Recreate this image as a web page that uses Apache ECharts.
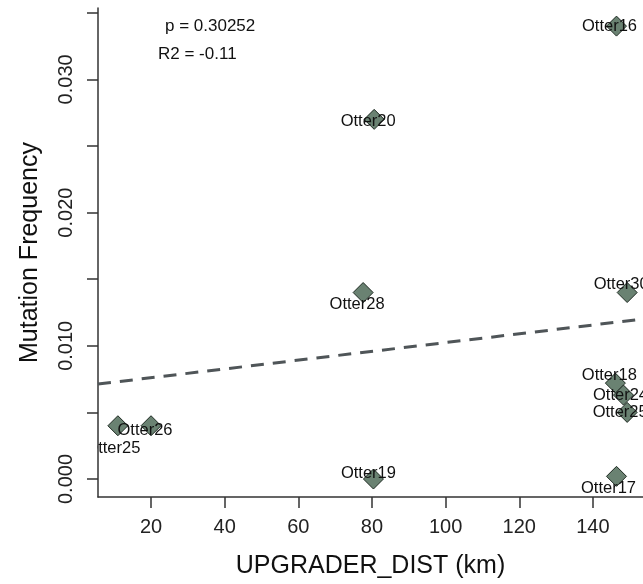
<!doctype html>
<html>
<head>
<meta charset="utf-8">
<title></title>
<script src="https://cdn.jsdelivr.net/npm/echarts@6/dist/echarts.min.js"></script>
<style>
html, body { margin: 0; padding: 0; background: #fff; }
#main { width: 643px; height: 584px; }
</style>
</head>
<body>
<div id="main"></div>
<script type="text/javascript">
// sample names, distance (km), mutation frequency
var names = ['Otter16', 'Otter20', 'Otter28', 'Otter30', 'Otter18', 'Otter24', 'Otter25', 'Otter17', 'Otter19', 'Otter25', 'Otter26'];
var distKm = [146.4, 80.6, 77.6, 149.3, 146.1, 148.3, 149.3, 146.4, 80.4, 11.0, 20.0];
var mutFreq = [0.0340, 0.0270, 0.0140, 0.0140, 0.0072, 0.0063, 0.0050, 0.0002, 0.0000, 0.0040, 0.0040];

// fitted line end points
var fitX = [5.6, 153.6];
var fitY = [0.00713, 0.01201];

var xTicks = [20, 40, 60, 80, 100, 120, 140];
var yTicks = [0, 0.005, 0.010, 0.015, 0.020, 0.025, 0.030, 0.035];
var yLabels = [0, 0.010, 0.020, 0.030];

// where each name sits relative to its point (px)
var labelOffsets = [[-7, 0], [-6, 2], [-6, 12], [-6, -8], [-6, -8], [-3, 0], [-7, 0], [-8, 12], [-5, -6], [-5, 23], [-6, 5]];

var myChart = echarts.init(document.getElementById('main'));

var pts = [];
for (var i = 0; i < names.length; i++) {
	pts.push({
		name: names[i],
		value: [distKm[i], mutFreq[i]],
		label: { offset: labelOffsets[i] }
	});
}

var fitData = [];
for (var j = 0; j < fitX.length; j++) {
	fitData.push([fitX[j], fitY[j]]);
}

var axisCol = '#333';
var font = 'Liberation Sans, Arial, sans-serif';

var option = {
	animation: false,
	backgroundColor: '#fff',
	grid: { left: 98, right: 0, top: 8, bottom: 87, containLabel: false, outerBoundsMode: 'none' },
	xAxis: {
		type: 'value',
		min: 5.6,
		max: 153.6,
		name: 'UPGRADER_DIST (km)',
		nameLocation: 'middle',
		nameGap: 57,
		nameTextStyle: { fontSize: 25, color: '#111', fontFamily: font },
		axisLine: { show: true, onZero: false, lineStyle: { color: axisCol, width: 1.5 } },
		axisTick: { show: true, length: 11, customValues: xTicks, lineStyle: { color: axisCol, width: 1.5 } },
		axisLabel: { customValues: xTicks, fontSize: 20, color: '#222', fontFamily: font, margin: 20 },
		splitLine: { show: false }
	},
	yAxis: {
		type: 'value',
		min: -0.00135,
		max: 0.03536,
		name: 'Mutation Frequency',
		nameLocation: 'middle',
		nameGap: 55,
		nameTextStyle: { fontSize: 25, color: '#111', fontFamily: font },
		axisLine: { show: true, onZero: false, lineStyle: { color: axisCol, width: 1.5 } },
		axisTick: { show: true, length: 11, customValues: yTicks, lineStyle: { color: axisCol, width: 1.5 } },
		axisLabel: {
			customValues: yLabels,
			rotate: 90,
			fontSize: 20,
			color: '#222',
			fontFamily: font,
			margin: 22,
			formatter: function (v) { return v.toFixed(3); }
		},
		splitLine: { show: false }
	},
	graphic: [
		{ type: 'text', left: 165, top: 18, z: 100, style: { text: 'p = 0.30252', fontSize: 17, fill: '#111', fontFamily: font } },
		{ type: 'text', left: 158, top: 46, z: 100, style: { text: 'R2 = -0.11', fontSize: 17, fill: '#111', fontFamily: font } },
		// R clips text at the plot edge
		{ type: 'rect', shape: { x: 78, y: 438, width: 19, height: 22 }, z: 100, style: { fill: '#fff' } }
	],
	series: [
		{
			type: 'line',
			data: fitData,
			symbol: 'none',
			silent: true,
			lineStyle: { color: '#4f5558', width: 3, type: [13, 9] },
			z: 1
		},
		{
			type: 'scatter',
			data: pts,
			symbol: 'diamond',
			symbolSize: 20,
			itemStyle: { color: '#6a8272', borderColor: '#1e2a22', borderWidth: 1, opacity: 1 },
			label: {
				show: true,
				position: 'inside',
				formatter: '{b}',
				fontSize: 16.5,
				color: '#111',
				fontFamily: font
			},
			z: 3
		}
	]
};

myChart.setOption(option);
</script>
</body>
</html>
